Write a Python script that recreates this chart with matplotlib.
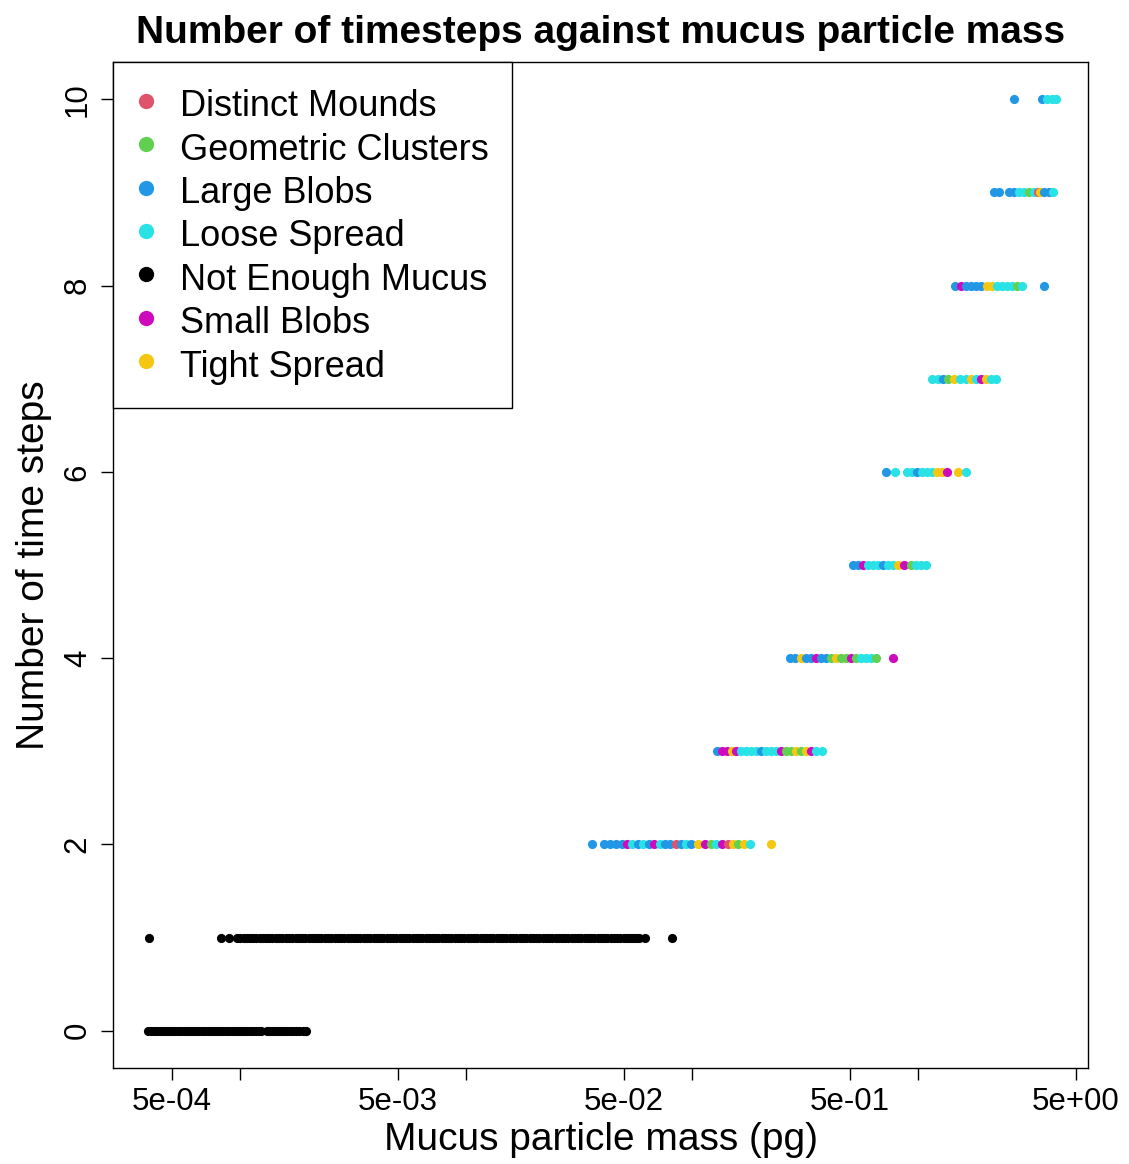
import numpy as np
import matplotlib
matplotlib.use('Agg')
from matplotlib import pyplot as plt
from matplotlib.lines import Line2D

plt.rcParams['font.family'] = ['Liberation Sans', 'DejaVu Sans']

# classes, in legend order, with R 4 default palette colours
classes = ['Distinct Mounds', 'Geometric Clusters', 'Large Blobs', 'Loose Spread',
           'Not Enough Mucus', 'Small Blobs', 'Tight Spread']
codes = ['DM', 'GC', 'LB', 'LS', 'NE', 'SB', 'TS']
colours = ['#DF536B', '#61D04F', '#2297E6', '#28E2E5', 'black', '#CD0BBC', '#F5C710']

# mucus particle mass (pg) per number of time steps
mass0 = [0.000392, 0.000404, 0.000417, 0.000430, 0.000443, 0.000457, 0.000471, 0.000485,
         0.000500, 0.000516, 0.000532, 0.000548, 0.000565, 0.000583, 0.000601, 0.000620,
         0.000639, 0.000659, 0.000679, 0.000700, 0.000722, 0.000744, 0.000767, 0.000791,
         0.000816, 0.000841, 0.000867, 0.000894, 0.000922, 0.000951, 0.000980, 0.00101,
         0.00104, 0.00107, 0.00111, 0.00114, 0.00118, 0.00121, 0.00124, 0.00131, 0.00135,
         0.00139, 0.00143, 0.00147, 0.00152, 0.00157, 0.00162, 0.00167, 0.00172, 0.00177,
         0.00183, 0.00189, 0.00194, 0.00196]
mass1 = [0.000395, 0.000824, 0.000894,
         0.00097, 0.00100, 0.00104, 0.00107, 0.00111, 0.00114, 0.00118, 0.00122, 0.00126,
         0.00130, 0.00135, 0.00139, 0.00144, 0.00149, 0.00154, 0.00159, 0.00165, 0.00170,
         0.00176, 0.00182, 0.00188, 0.00194, 0.00201, 0.00208, 0.00215, 0.00222, 0.00229,
         0.00237, 0.00245, 0.00253, 0.00262, 0.00271, 0.00280, 0.00289, 0.00299, 0.00309,
         0.00319, 0.00330, 0.00341, 0.00353, 0.00365, 0.00377, 0.00390, 0.00403, 0.00416,
         0.00430, 0.00445, 0.00460, 0.00475, 0.00491, 0.00508, 0.00525, 0.00543, 0.00561,
         0.00580, 0.00599, 0.00619, 0.00640, 0.00662, 0.00684, 0.00707, 0.00731, 0.00755,
         0.00781, 0.00807, 0.00834, 0.00862, 0.00891, 0.00921, 0.00952, 0.00984, 0.0102,
         0.0105, 0.0108, 0.0112, 0.0116, 0.0120, 0.0124, 0.0128, 0.0132, 0.0137, 0.0141,
         0.0146, 0.0151, 0.0156, 0.0161, 0.0167, 0.0173, 0.0179, 0.0185, 0.0191, 0.0197,
         0.0204, 0.0211, 0.0218, 0.0225, 0.0233, 0.0241, 0.0249, 0.0257, 0.0266, 0.0275,
         0.0284, 0.0293, 0.0303, 0.0313, 0.0324, 0.0335, 0.0346, 0.0358, 0.0370, 0.0382,
         0.0395, 0.0408, 0.0422, 0.0436, 0.0451, 0.0466, 0.0482, 0.0498, 0.0515, 0.0532,
         0.0550, 0.0565, 0.0580, 0.0617, 0.0816]

mass2 = [0.0361, 0.0408, 0.0434, 0.0461, 0.0490, 0.0516, 0.0543, 0.0577, 0.0607, 0.0645,
         0.0679, 0.0722, 0.0760, 0.0799, 0.0850, 0.0894, 0.0941, 0.0990, 0.1063, 0.1142,
         0.1214, 0.1277, 0.1357, 0.1443, 0.1518, 0.1598, 0.1699, 0.1806, 0.2237]
class2 = ['LB', 'LB', 'LB', 'LB', 'LB', 'SB', 'LS', 'LB', 'LS', 'LB',
          'SB', 'LS', 'LB', 'LB', 'DM', 'LB', 'LS', 'LB', 'TS', 'SB',
          'GC', 'LS', 'SB', 'DM', 'TS', 'GC', 'TS', 'LS', 'TS']
mass3 = [0.129, 0.136, 0.143, 0.150, 0.157, 0.165, 0.173, 0.182, 0.192, 0.202, 0.213,
         0.224, 0.235, 0.248, 0.261, 0.274, 0.289, 0.304, 0.319, 0.336, 0.354, 0.376]
class3 = ['LB', 'SB', 'SB', 'TS', 'SB', 'LS', 'LS', 'LS', 'LS', 'LB', 'LS',
          'LS', 'LS', 'SB', 'GC', 'GC', 'TS', 'GC', 'TS', 'SB', 'LS', 'LS']
mass4 = [0.271, 0.286, 0.304, 0.319, 0.336, 0.354, 0.372, 0.391, 0.412, 0.434, 0.456,
         0.480, 0.505, 0.532, 0.559, 0.589, 0.619, 0.652, 0.775]
class4 = ['LB', 'LB', 'TS', 'LB', 'LB', 'SB', 'LB', 'LB', 'GC', 'TS', 'GC',
          'GC', 'SB', 'GC', 'LS', 'LS', 'LS', 'GC', 'SB']
mass5 = [0.516, 0.543, 0.571, 0.601, 0.632, 0.665, 0.700, 0.737, 0.775, 0.816, 0.867,
         0.931, 0.980, 1.031, 1.085]
class5 = ['LB', 'LB', 'SB', 'LS', 'LS', 'LS', 'LB', 'LS', 'LS', 'TS', 'SB',
          'GC', 'LS', 'LS', 'LS']
mass6 = [0.722, 0.791, 0.894, 0.941, 0.990, 1.042, 1.096, 1.153, 1.214, 1.277, 1.344,
         1.503, 1.631]
class6 = ['LB', 'LS', 'LS', 'LS', 'LB', 'LS', 'LS', 'LS', 'TS', 'TS', 'SB',
          'TS', 'LS']
mass7 = [1.153, 1.226, 1.290, 1.357, 1.443, 1.534, 1.631, 1.716, 1.806, 1.900, 2.000,
         2.104, 2.214]
class7 = ['LS', 'LS', 'LB', 'GC', 'TS', 'LS', 'LS', 'TS', 'LS', 'SB', 'TS',
          'LS', 'LS']
mass8 = [1.457, 1.550, 1.631, 1.715, 1.805, 1.899, 2.019, 2.125, 2.236, 2.353, 2.476,
         2.605, 2.742, 2.885, 3.610]
class8 = ['LB', 'SB', 'LB', 'LB', 'LB', 'LB', 'TS', 'TS', 'LS', 'LS', 'LS',
          'LS', 'GC', 'LS', 'LB']
mass9 = [2.168, 2.282, 2.527, 2.659, 2.798, 2.943, 3.097, 3.259, 3.393, 3.465, 3.610,
         3.798, 3.955]
class9 = ['LB', 'LB', 'LB', 'LB', 'LS', 'LS', 'GC', 'LS', 'DM', 'TS', 'LB',
          'LB', 'LS']
mass10 = [2.659, 3.537, 3.719, 3.914, 4.078]
class10 = ['LB', 'LB', 'LS', 'LS', 'LS']

rows = [(0, mass0, ['NE'] * len(mass0)),
        (1, mass1, ['NE'] * len(mass1)),
        (2, mass2, class2), (3, mass3, class3), (4, mass4, class4),
        (5, mass5, class5), (6, mass6, class6), (7, mass7, class7),
        (8, mass8, class8), (9, mass9, class9), (10, mass10, class10)]

xmajor = [5e-4, 5e-3, 5e-2, 5e-1, 5e0]
xlabels = ['5e-04', '5e-03', '5e-02', '5e-01', '5e+00']
xminor = [1e-3, 1e-2, 1e-1, 1e0]
yticks = [0, 2, 4, 6, 8, 10]

fig = plt.figure(figsize=(11.29, 11.64), dpi=100)
ax = fig.add_axes([0.1001, 0.0825, 0.8636, 0.8642])

col = dict(zip(codes, colours))
for steps, m, c in rows:
    m = np.array(m)
    for i in range(len(m)):
        ax.plot(m[i], steps, 'o', color=col[c[i]], markersize=6.6,
                markeredgewidth=0, linestyle='none')

ax.set_xscale('log')
ax.set_xlim(10 ** -3.562, 10 ** 0.752)
ax.set_ylim(-0.4, 10.4)
ax.set_xticks(xmajor, xlabels)
ax.set_xticks(xminor, minor=True)
ax.xaxis.set_minor_formatter(matplotlib.ticker.NullFormatter())
ax.set_yticks(yticks)
ax.set_yticklabels([str(t) for t in yticks], rotation=90, va='center')
ax.tick_params(which='both', length=8.5, width=1, labelsize=22.5, color='black')
ax.tick_params(axis='x', pad=5)
ax.tick_params(axis='y', pad=6)
for s in ax.spines.values():
    s.set_linewidth(1.0)
    s.set_color('black')

ax.set_xlabel('Mucus particle mass (pg)', fontsize=28, labelpad=4)
ax.set_ylabel('Number of time steps', fontsize=28, labelpad=8)
ax.set_title('Number of timesteps against mucus particle mass', fontsize=28,
             fontweight='bold', pad=14)

handles = [Line2D([], [], marker='o', linestyle='none', color=c, markersize=11,
                  markeredgewidth=0) for c in colours]
leg = ax.legend(handles, classes, loc='upper left', fontsize=26, frameon=True,
                fancybox=False, framealpha=1, edgecolor='black', borderaxespad=0,
                borderpad=0.65, handlelength=0.55, handleheight=1.2,
                handletextpad=0.65, labelspacing=0.13)
leg.get_frame().set_linewidth(1.0)

fig.savefig('out.png', dpi=100)
